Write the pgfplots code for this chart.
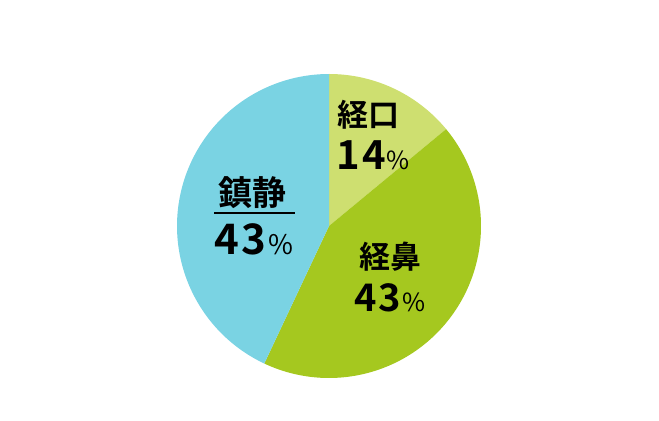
\documentclass[border=0pt]{standalone}
\usepackage{pgfplots}
\pgfplotsset{compat=1.18}
\usepackage{fontspec}
\setmainfont{Noto Sans CJK JP}[BoldFont={Noto Sans CJK JP Bold}]

\definecolor{oral}{HTML}{CEDF70}
\definecolor{nasal}{HTML}{A5C81F}
\definecolor{sedation}{HTML}{7AD3E3}

% shares in percent, clockwise from the top
\def\vOral{14}
\def\vNasal{43}
\def\vSed{43}
\pgfmathsetmacro\aA{90-3.6*\vOral}
\pgfmathsetmacro\aB{\aA-3.6*\vNasal}
\pgfmathsetmacro\aC{\aB-3.6*\vSed}

% #1 = size of the name, #2 = size of the number, #3 = size of the %
\newcommand\jp[1]{\fontsize{#1bp}{#1bp}\selectfont\bfseries}
\newcommand\num[1]{\fontsize{#1bp}{#1bp}\selectfont\bfseries\addfontfeature{LetterSpace=6}}
\newcommand\pct[1]{\fontsize{#1bp}{#1bp}\selectfont\mdseries}

\begin{document}
\begin{tikzpicture}
\begin{axis}[
    hide axis,
    scale only axis,
    width=659bp, height=421bp,
    xmin=0, xmax=659, ymin=0, ymax=421,
    clip=false,
]
\path (axis cs:0,0) rectangle (axis cs:659,421);
% slices
\addplot[fill=oral, draw=none, domain=\aA:90, samples=60, variable=\t]
    ({329+152*cos(\t)},{195+152*sin(\t)}) -- (axis cs:329,195) -- cycle;
\addplot[fill=nasal, draw=none, domain=\aB:\aA, samples=120, variable=\t]
    ({329+152*cos(\t)},{195+152*sin(\t)}) -- (axis cs:329,195) -- cycle;
\addplot[fill=sedation, draw=none, domain=\aC:\aB, samples=120, variable=\t]
    ({329+152*cos(\t)},{195+152*sin(\t)}) -- (axis cs:329,195) -- cycle;

% labels
\node[anchor=center, inner sep=0] at (axis cs:368,306) {\jp{31}経口};
\node[anchor=base west, inner sep=0] at (axis cs:336,251) {\num{40}14\pct{25}\kern1bp\%};

\node[anchor=center, inner sep=0] at (axis cs:252,228) {\jp{34}鎮静};
\draw[line width=2bp] (axis cs:214,208) -- (axis cs:295,208);
\node[anchor=base west, inner sep=0] at (axis cs:214,166) {\num{42}43\pct{27}\kern2bp\%};

\node[anchor=center, inner sep=0] at (axis cs:390,164) {\jp{31}経鼻};
\node[anchor=base west, inner sep=0] at (axis cs:354,109) {\num{38}43\pct{25}\kern1bp\%};
\end{axis}
\end{tikzpicture}
\end{document}
